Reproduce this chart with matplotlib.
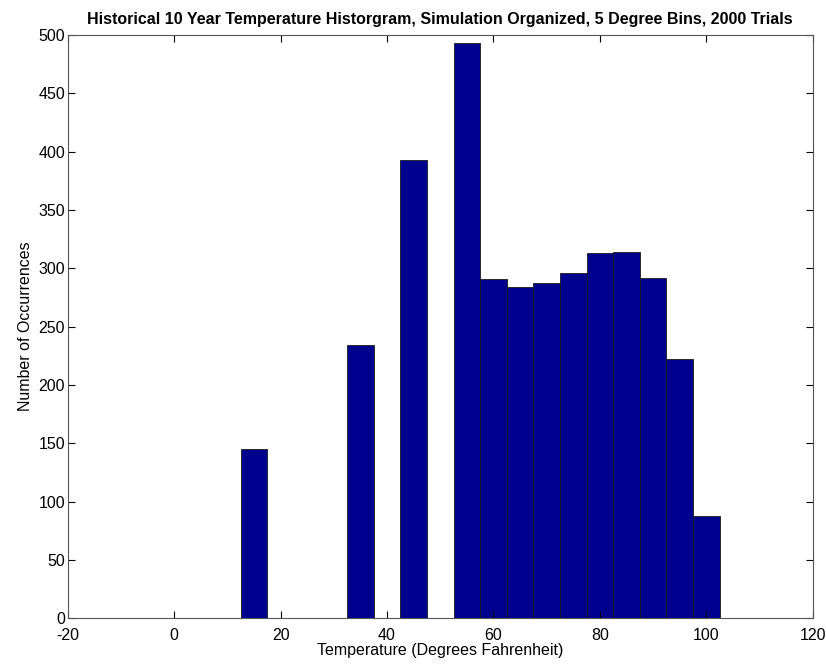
import numpy as np
import matplotlib
matplotlib.use("Agg")
import matplotlib.pyplot as plt

plt.rcParams['font.family'] = ['Liberation Sans', 'DejaVu Sans']
plt.rcParams['axes.unicode_minus'] = False

# bin centers (deg F) and counts
bin_centers = [15, 35, 45, 55, 60, 65, 70, 75, 80, 85, 90, 95, 100]
counts = [145, 234, 393, 493, 291, 284, 287, 296, 313, 314, 292, 222, 88]
bin_width = 5

fig = plt.figure(figsize=(8.26, 6.70), dpi=100)
ax = fig.add_axes([0.082, 0.077, 0.902, 0.871])

ax.bar(bin_centers, counts, width=bin_width, color='#00008F',
       edgecolor='#1a1a1a', linewidth=0.6)

ax.set_xlim(-20, 120)
ax.set_ylim(0, 500)
ax.set_xticks(np.arange(-20, 121, 20))
ax.set_yticks(np.arange(0, 501, 50))
ax.tick_params(direction='in', top=True, right=True, labelsize=11.5, length=5)
ax.tick_params(axis='y', pad=2)
ax.tick_params(axis='x', pad=7)
for s in ax.spines.values():
    s.set_color('#555555')

ax.set_xlabel("Temperature (Degrees Fahrenheit)", fontsize=11.5, labelpad=0)
ax.set_ylabel("Number of Occurrences", fontsize=11.5)
ax.set_title("Historical 10 Year Temperature Historgram, Simulation Organized, 5 Degree Bins, 2000 Trials",
             fontsize=11.5, fontweight='bold', pad=8)

fig.savefig("out.png", dpi=100)
